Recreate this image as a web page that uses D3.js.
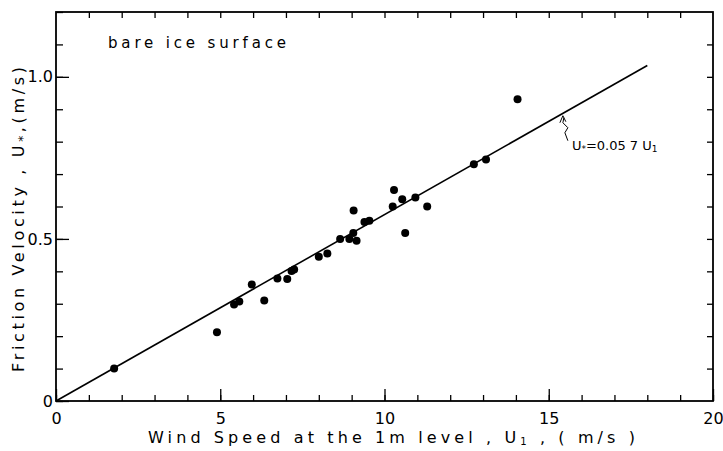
<!DOCTYPE html>
<html>
<head>
<meta charset="utf-8">
<script src="https://cdn.jsdelivr.net/npm/d3@7"></script>
<style>
  body { margin: 0; background: #fff; }
  svg { display: block; }
  text { font-family: "DejaVu Sans", sans-serif; fill: #000; }
</style>
</head>
<body>
<svg id="chart" width="723" height="451"></svg>
<script>
// ---- data ----
const windSpeed = [1.77, 4.9, 5.42, 5.58, 5.96, 6.34, 6.74, 7.04, 7.17, 7.25, 8.0, 8.26, 8.65, 8.93, 9.05, 9.15, 9.06, 9.39, 9.54, 10.25, 10.29, 10.54, 10.63, 10.94, 11.3, 12.72, 13.09, 14.05];
const frictionVel = [0.10, 0.212, 0.298, 0.307, 0.359, 0.31, 0.378, 0.376, 0.401, 0.406, 0.445, 0.455, 0.50, 0.50, 0.518, 0.494, 0.588, 0.552, 0.556, 0.60, 0.651, 0.622, 0.518, 0.628, 0.60, 0.730, 0.745, 0.931];
const fitLineX = [0, 18];
const fitLineY = [0, 1.035];
const xMajorTicks = [0, 5, 10, 15, 20];
const yMajorTicks = [0, 0.5, 1.0];
const yTickLabels = ["0", "0.5", "1.0"];
const annotationTip = [15.4, 0.88];

// ---- layout ----
const svg = d3.select("#chart");
const L = 56, R = 713, T = 12, B = 401;
const x = d3.scaleLinear().domain([0, 20]).range([L, R]);
const y = d3.scaleLinear().domain([0, 1.2]).range([B, T]);

const xMinor = d3.range(0, 21, 1);
const yMinor = d3.range(0, 12.01, 1).map(d => d / 10);

// frame
svg.append("rect").attr("x", L).attr("y", T).attr("width", R - L).attr("height", B - T)
  .attr("fill", "none").attr("stroke", "#000").attr("stroke-width", 1.8);

function styleAxis(g) {
  g.select(".domain").remove();
  g.selectAll(".tick line").attr("stroke", "#000").attr("stroke-width", 1.3);
}
// bottom minor + major
svg.append("g").attr("transform", `translate(0,${B})`)
  .call(d3.axisBottom(x).tickValues(xMinor).tickSize(-6).tickFormat(""))
  .call(styleAxis);
svg.append("g").attr("transform", `translate(0,${B})`)
  .call(d3.axisBottom(x).tickValues(xMajorTicks).tickSize(-12).tickPadding(18).tickFormat(d3.format("d")))
  .call(styleAxis)
  .call(g => g.selectAll("text").attr("font-size", 16).attr("fill", "#000").attr("dy", "0.3em"));
// top
svg.append("g").attr("transform", `translate(0,${T})`)
  .call(d3.axisTop(x).tickValues(xMinor.filter(d => d > 0 && d < 20)).tickSize(-6).tickFormat(""))
  .call(styleAxis);
// left
svg.append("g").attr("transform", `translate(${L},0)`)
  .call(d3.axisLeft(y).tickValues(yMinor).tickSize(-7).tickFormat(""))
  .call(styleAxis);
svg.append("g").attr("transform", `translate(${L},0)`)
  .call(d3.axisLeft(y).tickValues(yMajorTicks).tickSize(-13).tickPadding(4)
    .tickFormat((d, i) => yTickLabels[i]))
  .call(styleAxis)
  .call(g => g.selectAll("text").attr("font-size", 16).attr("fill", "#000").attr("x", -3));
// right
svg.append("g").attr("transform", `translate(${R},0)`)
  .call(d3.axisRight(y).tickValues(yMinor.filter(d => d > 0 && d < 1.2)).tickSize(-6).tickFormat(""))
  .call(styleAxis);

// fit line
svg.append("line")
  .attr("x1", x(fitLineX[0])).attr("y1", y(fitLineY[0]))
  .attr("x2", x(fitLineX[1])).attr("y2", y(fitLineY[1]))
  .attr("stroke", "#000").attr("stroke-width", 1.6);

// points
svg.append("g").selectAll("circle").data(windSpeed).join("circle")
  .attr("cx", d => x(d)).attr("cy", (d, i) => y(frictionVel[i])).attr("r", 4).attr("fill", "#000");

// annotation
const tx = x(annotationTip[0]), ty = y(annotationTip[1]);
svg.append("path")
  .attr("d", `M${tx + 6},${ty + 25} L${tx + 3},${ty + 17} L${tx + 6},${ty + 12} L${tx + 1},${ty + 7} L${tx + 2},${ty + 2}`)
  .attr("fill", "none").attr("stroke", "#000").attr("stroke-width", 1);
svg.append("path")
  .attr("d", `M${tx - 2},${ty + 7} L${tx + 1},${ty} L${tx + 4},${ty + 6}`)
  .attr("fill", "none").attr("stroke", "#000").attr("stroke-width", 1);
const ann = svg.append("text").attr("x", tx + 10).attr("y", ty + 34).attr("font-size", 13);
ann.append("tspan").text("U");
ann.append("tspan").attr("font-size", 9).attr("dy", 2).text("*");
ann.append("tspan").attr("dy", -2).text("=0.05 7  U");
ann.append("tspan").attr("font-size", 9).attr("dy", 2).text("1");

// inner label
svg.append("text").attr("x", 108).attr("y", 48).attr("font-size", 15)
  .attr("textLength", 178).attr("lengthAdjust", "spacing").text("bare ice surface");

// x axis title
const xt = svg.append("text").attr("x", 148).attr("y", 443).attr("font-size", 16)
  .attr("textLength", 487).attr("lengthAdjust", "spacing");
xt.append("tspan").text("Wind  Speed  at the  1m  level , U");
xt.append("tspan").attr("font-size", 10).attr("dy", 2).text("1");
xt.append("tspan").attr("dy", -2).text(" , ( m/s )");

// y axis title
const yt = svg.append("text").attr("transform", "translate(24,372) rotate(-90)").attr("font-size", 16)
  .attr("textLength", 305).attr("lengthAdjust", "spacing");
yt.append("tspan").text("Friction  Velocity , U");
yt.append("tspan").attr("font-size", 12).attr("dy", 3).text("*");
yt.append("tspan").attr("dy", -3).text(",(m/s)");
</script>
</body>
</html>
